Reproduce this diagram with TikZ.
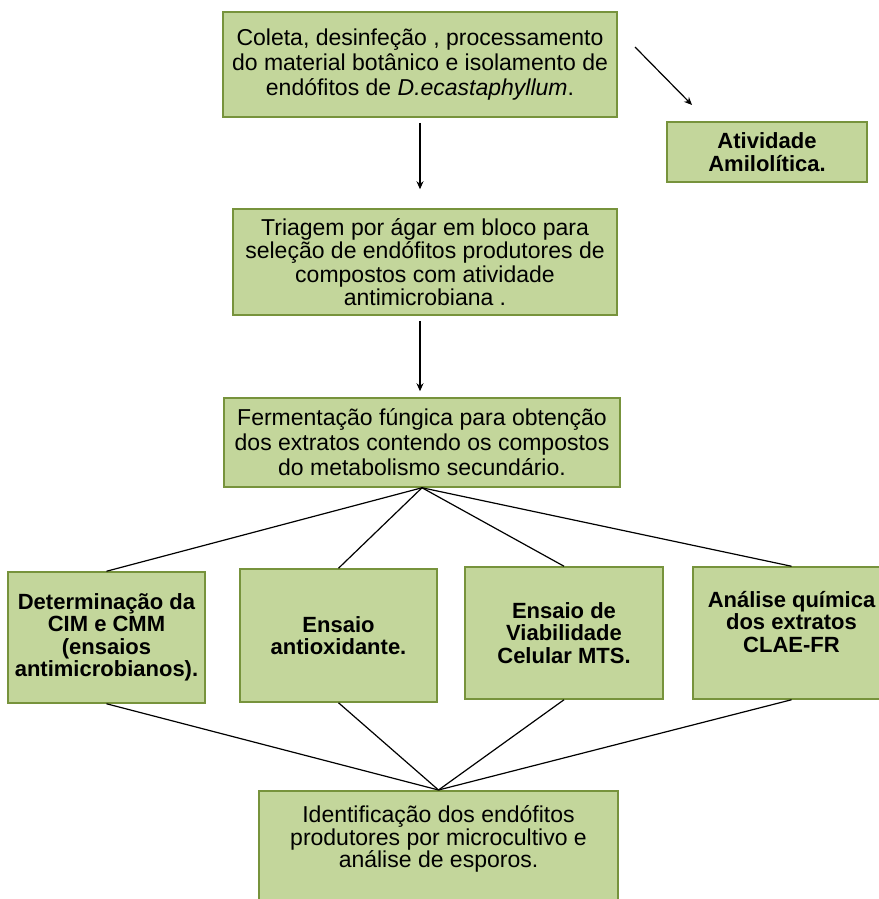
\documentclass[tikz,border=0pt]{standalone}
\usepackage{fontspec}
\setmainfont{Liberation Sans}
\usepackage{xcolor}
\usetikzlibrary{
	arrows.meta,
	positioning,
	calc
}
\definecolor{boxfill}{RGB}{195,214,155}
\definecolor{boxdraw}{RGB}{119,147,60}

\begin{document}
\begin{tikzpicture}[
					x=1pt, y=-1pt,
					gb/.style={
							rectangle,
							draw=boxdraw,
							fill=boxfill,
							line width=1.5pt,
							inner sep=3pt,
							align=center,
							font=\fontsize{23}{25}\selectfont
						},
					gb_bold/.style={
							gb,
							font=\bfseries\fontsize{22}{22.5}\selectfont
						},
					link/.style={
							line width=1.2pt
						},
					>={Stealth[length=8pt,width=7pt]}
				]
				\useasboundingbox (0,0) rectangle (878,899);

				\node[gb, minimum width=394pt, minimum height=105pt] (coleta) at (420, 64.5) {
				Coleta, desinfeção , processamento\\
				do material botânico e isolamento de\\
				endófitos de \textit{D.ecastaphyllum}.
				};

				\node[gb_bold, minimum width=200pt, minimum height=60pt] (amilo) at (767, 152) {
					Atividade\\
					Amilolítica.
				};

				\node[gb, font=\fontsize{23}{23.5}\selectfont, minimum width=384pt, minimum height=106pt] (triagem) at (425, 262) {
					Triagem por ágar em bloco  para\\
					seleção de endófitos produtores de\\
					compostos com atividade\\
					antimicrobiana .
				};

				\node[gb, minimum width=396pt, minimum height=89pt] (ferm) at (422, 442.5) {
					Fermentação fúngica para obtenção\\
					dos extratos contendo os compostos\\
					do metabolismo secundário.
				};

				\node[gb_bold, minimum width=197pt, minimum height=131pt] (cim) at (106.5, 637.5) {
					Determinação da\\
					CIM e CMM\\
					(ensaios\\
					antimicrobianos).
				};

				\node[gb_bold, minimum width=197pt, minimum height=133pt] (antiox) at (338.5, 635.5) {
					Ensaio\\
					antioxidante.
				};

				\node[gb_bold, minimum width=198pt, minimum height=132pt] (mts) at (564, 633) {
					Ensaio de\\
					Viabilidade\\
					Celular MTS.
				};

				\node[gb_bold, minimum width=197pt, minimum height=132pt] (clae) at (791.5, 633) {
					Análise química\\
					dos extratos\\
					CLAE-FR\\
					\mbox{}
				};

				\node[gb, font=\fontsize{23}{22.5}\selectfont, minimum width=359pt, minimum height=115pt, anchor=north] (ident) at (438.5, 790) {
					Identificação dos endófitos\\
					produtores por microcultivo e\\
					análise de esporos.\\
					\mbox{}
				};

				\coordinate (amilo_a) at (635, 47);
				\coordinate (amilo_b) at (692, 105);

				\draw[->, link] (amilo_a) -- (amilo_b);
				\draw[->, link, shorten <=5pt, shorten >=19pt] (coleta.south) -- (coleta.south |- triagem.north);
				\draw[->, link, shorten <=5pt, shorten >=6pt] (triagem.south -| coleta.south) -- (ferm.north -| coleta.south);

				\foreach \b in {cim, antiox, mts, clae} {
					\draw[link] (ferm.south) -- (\b.north);
					\draw[link] (\b.south) -- (ident.north);
				}
		\end{tikzpicture}
\end{document}
